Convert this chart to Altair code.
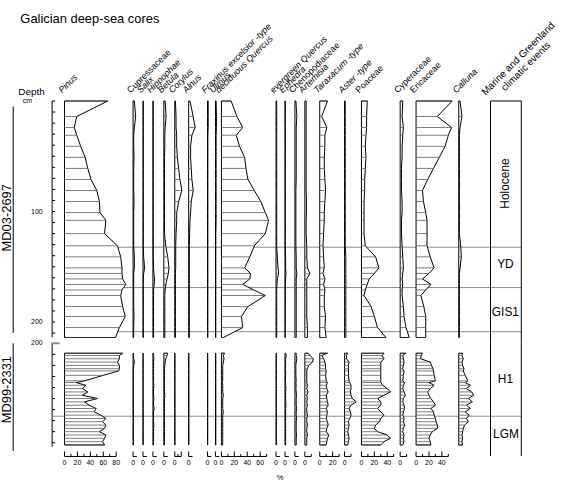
import altair as alt
import pandas as pd

# ------------------------------------------------------------------ data
md03_depth = [0, 14, 24, 31, 41, 51, 61, 71, 81, 91, 101, 108, 120, 131, 141,
              151, 156, 161, 166, 171, 176, 186, 195, 205, 214]
md99_depth = [209, 211, 214, 217, 220, 223, 225, 229, 234, 235.5, 238, 241, 244,
              247, 250, 253, 256, 259, 262, 265, 268, 271, 274, 277, 280, 283,
              286, 289, 292]

pinus_md03 = [67, 19, 15, 19, 25, 32, 36, 41, 50, 54, 55, 64, 62, 82, 87, 89, 89, 90, 95, 89, 87, 90, 94, 85, 79]
cupress_md03 = [2, 4, 2, 1, 1, 1.5, 1, 1, 1, 1.5, 1, 1, 1, 1, 2, 2, 1, 1, 1, 1, 1, 1, 1.5, 1, 1]
salix_md03 = [0.5, 0.5, 0.5, 0.5, 0.5, 0.5, 0.5, 0.5, 0.5, 0.5, 0.5, 0.5, 0.5, 0.5, 1, 2.5, 1, 0.5, 0.5, 0.5, 0.5, 0.5, 0.5, 0.5, 0.5]
hippo_md03 = [0.5, 0.5, 0.5, 0.5, 0.5, 0.5, 0.5, 0.5, 0.5, 0.5, 0.5, 0.5, 0.5, 0.5, 0.5, 1, 1.5, 2.5, 2, 1, 1, 1, 1, 1, 1]
betula_md03 = [2, 3.5, 2, 1.5, 1.5, 1, 1, 1, 1, 1, 1, 1, 1, 3, 6, 8, 7, 5, 3, 2, 1.5, 1.5, 1.5, 1.5, 1.5]
corylus_md03 = [1, 2, 2, 3, 3, 4, 6, 8, 11, 6, 3, 3, 2, 1.5, 1.5, 1.5, 1, 1, 1, 1, 1, 1, 1, 1, 1]
alnus_md03 = [2, 7, 10, 5, 3, 3, 4, 5, 7, 4, 3, 2, 1.5, 1, 1, 1, 1, 1, 1, 1, 1, 1, 1, 1, 1]
fraxinus_md03 = [1, 1, 1, 0.5, 0.5, 0.5, 0.5, 0.5, 0.5, 0.5, 0.5, 0.5, 0.5, 0.5, 0.5, 0.5, 0.5, 0.5, 0.5, 0.5, 0.5, 0.5, 0.5, 0.5, 0.5]
ulmus_md03 = [1, 1.5, 1.5, 1, 1, 1, 1, 1, 1, 1, 1, 1, 0.5, 0.5, 0.5, 0.5, 0.5, 0.5, 0.5, 0.5, 0.5, 0.5, 0.5, 0.5, 0.5]
dquercus_md03 = [15, 24, 33, 23, 28, 36, 38, 41, 51, 61, 68, 73, 68, 51, 44, 36, 45, 44, 33, 50, 68, 41, 31, 33, 3]
equercus_md03 = [1, 1, 1, 1, 1, 1, 1, 1, 1, 1, 1, 1, 1, 1, 2, 3, 4, 2, 1.5, 1, 1, 1, 1, 1, 1]
ephedra_md03 = [0.5, 0.5, 0.5, 0.5, 0.5, 0.5, 0.5, 0.5, 0.5, 0.5, 0.5, 0.5, 0.5, 0.5, 1, 1, 1.5, 1, 0.5, 0.5, 0.5, 0.5, 0.5, 0.5, 0.5]
cheno_md03 = [1.5, 3, 2, 2, 2, 2, 2, 2, 1.5, 1.5, 1.5, 1.5, 1.5, 1.5, 2, 2, 3, 2, 2, 2, 2, 2, 2, 2, 2]
artemisia_md03 = [2, 2, 2, 2, 2, 2, 2, 2, 2, 2.5, 2.5, 2, 2, 3, 3, 4, 8, 3, 3, 3, 3, 3, 3, 4, 4]
taraxacum_md03 = [12, 3, 11, 8, 8, 7, 7, 8, 9, 8, 7, 7, 6, 5, 6, 7, 5, 8, 6, 8, 7, 7, 9, 8, 10]
aster_md03 = [1, 1, 1, 1, 1, 1, 1, 1, 1, 1, 1, 1, 1, 1, 2, 2, 2, 2, 2, 2, 2, 2, 2, 2, 2]
poaceae_md03 = [9, 8, 8, 7, 6, 7, 6, 5, 5, 4, 4, 4, 4, 6, 22, 27, 20, 12, 9, 6, 4, 15, 20, 25, 38]
cyper_md03 = [4, 3, 5, 4, 3, 3, 2, 2, 2, 3, 3, 2, 2, 3, 4, 5, 4, 3, 4, 3, 3, 5, 6, 9, 14]
ericaceae_md03 = [56, 33, 55, 50, 45, 36, 27, 18, 10, 11.5, 15, 17, 17, 17, 22, 28, 20, 10, 23, 15, 7.5, 12, 15, 15, 15]
calluna_md03 = [2, 5, 2, 1, 1, 1, 1, 1, 1, 1, 1, 1, 1, 3, 4, 2, 1, 1, 1, 1, 1, 1, 1, 1, 1]

pinus_md99 = [90, 85, 85, 82, 85, 85, 84, 60, 31, 18, 33, 28, 36, 28, 51, 31, 38, 49, 46, 56, 64, 59, 64, 62, 54, 64, 62, 59, 62]
cupress_md99 = [0.5, 0.5, 1, 2, 1, 0.5, 0.5, 0.5, 0.5, 0.5, 0.5, 0.5, 0.5, 0.5, 0.5, 0.5, 0.5, 0.5, 0.5, 0.5, 0.5, 0.5, 0.5, 0.5, 0.5, 0.5, 0.5, 0.5, 0.5]
salix_md99 = [0.3, 0.3, 0.3, 0.3, 0.3, 0.3, 0.3, 0.3, 0.3, 0.3, 0.3, 0.3, 0.3, 0.3, 0.3, 0.3, 0.3, 0.3, 0.3, 0.3, 0.3, 0.3, 0.3, 0.3, 0.3, 0.3, 0.3, 0.3, 0.3]
hippo_md99 = [1, 1, 1.5, 1, 1, 1, 1, 1, 1, 1, 1.5, 1, 1, 1, 1.5, 1, 1, 2, 1, 1, 1, 1, 1.5, 1, 1, 1, 1, 1, 1]
betula_md99 = [6, 5, 3, 2, 1.5, 1, 1, 1, 1, 1, 1, 1, 1, 1.5, 1, 1, 1, 1, 1, 1, 1, 1, 1, 1, 1, 1, 1, 1, 1]
corylus_md99 = [0.3, 0.3, 0.3, 0.3, 0.3, 0.3, 0.3, 0.3, 0.3, 0.3, 0.3, 0.3, 0.3, 0.3, 0.3, 0.3, 0.3, 0.3, 0.3, 0.3, 0.3, 0.3, 0.3, 0.3, 0.3, 0.3, 0.3, 0.3, 0.3]
alnus_md99 = [0.3, 0.3, 0.3, 0.3, 0.3, 0.3, 0.3, 0.3, 0.3, 0.3, 0.3, 0.3, 0.3, 0.3, 0.3, 0.3, 0.3, 0.3, 0.3, 0.3, 0.3, 0.3, 0.3, 0.3, 0.3, 0.3, 0.3, 0.3, 0.3]
fraxinus_md99 = [0.3, 0.3, 0.3, 0.3, 0.3, 0.3, 0.3, 0.3, 0.3, 0.3, 0.3, 0.3, 0.3, 0.3, 0.3, 0.3, 0.3, 0.3, 0.3, 0.3, 0.3, 0.3, 0.3, 0.3, 0.3, 0.3, 0.3, 0.3, 0.3]
ulmus_md99 = [0.5, 0.5, 0.5, 0.5, 0.5, 0.5, 0.5, 0.5, 0.5, 0.5, 0.5, 0.5, 0.5, 0.5, 0.5, 0.5, 0.5, 0.5, 0.5, 0.5, 0.5, 0.5, 0.5, 0.5, 0.5, 0.5, 0.5, 0.5, 0.5]
dquercus_md99 = [5, 3, 4, 3, 2, 2, 2, 2, 2, 1.5, 2, 2, 2, 3, 2, 2, 2, 2, 3, 2, 2, 2, 2, 2, 2, 2, 2, 2, 2]
equercus_md99 = [0.5, 0.5, 0.5, 0.5, 0.5, 0.5, 0.5, 0.5, 0.5, 0.5, 0.5, 0.5, 0.5, 0.5, 0.5, 0.5, 0.5, 0.5, 0.5, 0.5, 0.5, 0.5, 0.5, 0.5, 0.5, 0.5, 0.5, 0.5, 0.5]
ephedra_md99 = [1, 2, 1, 1, 1, 0.5, 1, 1, 0.5, 1, 1, 1.5, 1, 1, 1, 1, 1.5, 1, 1, 1, 1, 1, 1, 1, 1, 1, 1, 1, 1]
cheno_md99 = [2, 2, 3, 2, 1.5, 1.5, 1.5, 1.5, 2, 1.5, 2, 1.5, 2, 2.5, 2, 2, 2, 2.5, 2, 2, 2.5, 2, 2, 2, 2, 2.5, 2, 2, 2]
artemisia_md99 = [5, 8, 13, 12, 6, 4, 3, 3, 3, 3, 4, 3, 5, 3, 4, 3, 4, 3, 3, 4, 3, 3, 4, 3, 3, 4, 3, 3, 3]
taraxacum_md99 = [12, 3, 6, 8, 9, 9, 10, 9, 10, 12, 10, 11, 13, 10, 11, 12, 13, 10, 12, 11, 10, 12, 13, 11, 10, 14, 12, 11, 10]
aster_md99 = [5, 3, 3, 7, 6, 6, 6, 6, 7, 8, 10, 10, 9, 10, 12, 18, 10, 7, 9, 10, 8, 6, 7, 6, 5, 6, 7, 6, 5]
poaceae_md99 = [35, 32, 35, 30, 30, 30, 30, 30, 30, 30, 33, 40, 45, 35, 25, 30, 30, 25, 30, 35, 30, 28, 22, 20, 25, 40, 45, 35, 30]
cyper_md99 = [9, 4, 5, 6, 5, 4, 6, 5, 4, 7, 5, 4, 6, 8, 5, 4, 6, 7, 5, 4, 6, 5, 7, 5, 4, 6, 5, 6, 4]
ericaceae_md99 = [10, 8, 7, 22, 24, 26, 27, 28, 30, 20, 28, 22, 18, 20, 23, 27, 30, 23, 27, 28, 30, 31, 33, 33, 25, 22, 20, 22, 23]
calluna_md99 = [6, 5, 7, 5, 6, 8, 7, 10, 14, 10, 18, 12, 20, 23, 15, 21, 12, 18, 10, 16, 12, 15, 9, 7, 6, 5, 6, 5, 6]

taxa_names = ["Pinus", "Cupressaceae", "Salix", "Hippophae", "Betula", "Corylus",
              "Alnus", "Fraxinus excelsior -type", "Ulmus", "deciduous Quercus",
              "evergreen Quercus", "Ephedra", "Chenopodiaceae", "Artemisia",
              "Taraxacum -type", "Aster -type", "Poaceae", "Cyperaceae",
              "Ericaceae", "Calluna"]
taxa_italic = [True, False, True, True, True, True, True, True, True, True,
               True, True, False, True, True, True, False, False, False, True]

md03_values = [pinus_md03, cupress_md03, salix_md03, hippo_md03, betula_md03,
               corylus_md03, alnus_md03, fraxinus_md03, ulmus_md03, dquercus_md03,
               equercus_md03, ephedra_md03, cheno_md03, artemisia_md03,
               taraxacum_md03, aster_md03, poaceae_md03, cyper_md03,
               ericaceae_md03, calluna_md03]
md99_values = [pinus_md99, cupress_md99, salix_md99, hippo_md99, betula_md99,
               corylus_md99, alnus_md99, fraxinus_md99, ulmus_md99, dquercus_md99,
               equercus_md99, ephedra_md99, cheno_md99, artemisia_md99,
               taraxacum_md99, aster_md99, poaceae_md99, cyper_md99,
               ericaceae_md99, calluna_md99]

# % scale bars: (axis end, major ticks, minor ticks, labelled ticks)
short_axis = (6, [0], [], [0])
taxa_axes = [
    (80, [0, 20, 40, 60, 80], [10, 30, 50, 70], [0, 20, 40, 60, 80]),
    short_axis, short_axis, short_axis, short_axis,
    (10, [0, 10], [5], [0]),
    short_axis, short_axis, short_axis,
    (70, [0, 20, 40, 60], [10, 30, 50, 70], [0, 20, 40, 60]),
    short_axis, short_axis, short_axis,
    (10, [0], [10], [0]),
    (30, [0, 20], [10, 30], [0, 20]),
    (10, [0], [10], [0]),
    (50, [0, 20, 40], [10, 30, 50], [0, 20, 40]),
    (10, [0], [10], [0]),
    (50, [0, 20, 40], [10, 30, 50], [0, 20, 40]),
    None,
]

md03_events = [132.3, 168.8, 208.7]
md99_events = [266]
md03_event_names = ["Holocene", "YD", "GIS1"]
md99_event_names = ["H1", "LGM"]
md03_depth_ticks = [0, 10, 20, 30, 40, 50, 60, 70, 80, 90, 100, 110, 120, 130,
                    140, 150, 160, 170, 180, 190, 200, 210]
md03_depth_labels = [100, 200]
md99_depth_ticks = [210, 220, 230, 240, 250, 260, 270, 280, 290]
md99_depth_labels = [200]

# ------------------------------------------------------------------ layout
FONT = "Liberation Sans"
GRAY = "#8a8a8a"
K = 0.65          # px per percent
PXCM = 1.113      # px per cm depth
GAP = 6
DEPTH_W = 65
EVENT_W = 31
panel_w = [69, 10, 10, 11, 11, 14, 19, 8, 6, 55, 9, 10, 10, 15, 25, 17, 39, 16, 43, 32]

ROWS = [
    dict(top=0, h=238, depth=md03_depth, events=md03_events),
    dict(top=200, h=104, depth=md99_depth, events=md99_events),
]
for r in ROWS:
    r["dom"] = [r["top"], r["top"] + r["h"] / PXCM]

ONE = pd.DataFrame({"a": [0]})


def yenc(r):
    return alt.Y("d:Q", axis=None,
                 scale=alt.Scale(domain=r["dom"], reverse=True, nice=False, zero=False))


def event_rules(r, x0, x1):
    return alt.Chart(pd.DataFrame({"d": r["events"]})).mark_rule(
        color=GRAY, strokeWidth=1).encode(y=yenc(r), x=alt.value(x0), x2=alt.value(x1))


def taxon_panel(ri, ti):
    r = ROWS[ri]
    h = r["h"]
    w = panel_w[ti]
    vals = md03_values[ti] if ri == 0 else md99_values[ti]
    df = pd.DataFrame({"d": r["depth"], "v": vals, "z": [0] * len(vals)})
    xs = alt.Scale(domain=[0, w / K], nice=False, zero=False)
    X = alt.X("v:Q", scale=xs, axis=None, stack=None)
    Y = yenc(r)
    layers = [
        event_rules(r, 0, w),
        alt.Chart(df).mark_area(orient="horizontal", fill="white", stroke="black",
                                strokeWidth=1, strokeJoin="miter").encode(x=X, y=Y),
        alt.Chart(df).mark_rule(color="#444", strokeWidth=0.7).encode(
            x=X, x2="z:Q", y=Y),
    ]
    if ri == 0:
        layers.append(alt.Chart(ONE).mark_text(
            angle=315, align="left", baseline="alphabetic", fontSize=9, font=FONT,
            fontStyle="italic" if taxa_italic[ti] else "normal").encode(
            text=alt.value(taxa_names[ti]), x=alt.value(-2.5), y=alt.value(-7.5)))
    else:
        ax = taxa_axes[ti]
        if ax is not None:
            mx, majors, minors, labels = ax
            layers.append(alt.Chart(pd.DataFrame({"v": [0], "z": [mx]})).mark_rule(
                color="black", strokeWidth=1).encode(x=X, x2="z:Q", y=alt.value(h + 10)))
            layers.append(alt.Chart(pd.DataFrame({"v": majors})).mark_rule(
                color="black", strokeWidth=1).encode(
                x=X, y=alt.value(h + 5), y2=alt.value(h + 10)))
            if minors:
                layers.append(alt.Chart(pd.DataFrame({"v": minors})).mark_rule(
                    color="black", strokeWidth=1).encode(
                    x=X, y=alt.value(h + 7.5), y2=alt.value(h + 10)))
            layers.append(alt.Chart(pd.DataFrame({"v": labels,
                                                  "lab": [str(v) for v in labels]}))
                          .mark_text(fontSize=7, font=FONT, baseline="middle",
                                     align="center")
                          .encode(x=X, y=alt.value(h + 17), text="lab:N"))
        if taxa_names[ti] == "evergreen Quercus":
            layers.append(alt.Chart(ONE).mark_text(
                fontSize=8, font=FONT, baseline="middle", align="center").encode(
                text=alt.value("%"), x=alt.value(4), y=alt.value(h + 31.5)))
    return alt.layer(*layers).properties(width=w, height=h)


def depth_panel(ri):
    r = ROWS[ri]
    h = r["h"]
    Y = yenc(r)
    ticks = md03_depth_ticks if ri == 0 else md99_depth_ticks
    labs = md03_depth_labels if ri == 0 else md99_depth_labels
    layers = [
        alt.Chart(pd.DataFrame({"d": [r["dom"][0]], "d2": [r["dom"][1]]})).mark_rule(
            color="black", strokeWidth=1).encode(x=alt.value(52.5), y=Y, y2="d2:Q"),
        alt.Chart(pd.DataFrame({"d": ticks})).mark_rule(
            color="black", strokeWidth=1).encode(x=alt.value(52.5), x2=alt.value(55.5), y=Y),
        alt.Chart(pd.DataFrame({"d": labs, "lab": [str(v) for v in labs]})).mark_text(
            fontSize=7, font=FONT, align="right", baseline="middle").encode(
            x=alt.value(43), y=Y, text="lab:N"),
    ]
    if ri == 0:
        layers += [
            alt.Chart(ONE).mark_rule(opacity=0).encode(
                x=alt.value(0), x2=alt.value(0.5), y=alt.value(-99.4)),
            alt.Chart(ONE).mark_text(fontSize=13, font=FONT, align="left",
                                     baseline="alphabetic").encode(
                text=alt.value("Galician deep-sea cores"), x=alt.value(20.5),
                y=alt.value(21 - 99.4)),
            alt.Chart(ONE).mark_text(fontSize=10, font=FONT, align="left",
                                     baseline="alphabetic").encode(
                text=alt.value("Depth"), x=alt.value(18.5), y=alt.value(93 - 99.4)),
            alt.Chart(ONE).mark_text(fontSize=7, font=FONT, align="center",
                                     baseline="alphabetic").encode(
                text=alt.value("cm"), x=alt.value(27.5), y=alt.value(101.5 - 99.4)),
            alt.Chart(ONE).mark_text(fontSize=13, font=FONT, angle=270, align="center",
                                     baseline="middle").encode(
                text=alt.value("MD03-2697"), x=alt.value(7), y=alt.value(217 - 99.4)),
            alt.Chart(ONE).mark_rule(color="black", strokeWidth=1).encode(
                x=alt.value(13.3), y=alt.value(5.6), y2=alt.value(233.6)),
        ]
    else:
        layers += [
            alt.Chart(pd.DataFrame({"d": [200]})).mark_rule(
                color=GRAY, strokeWidth=2).encode(x=alt.value(51.7), x2=alt.value(60), y=Y),
            event_rules(r, 52.5, DEPTH_W),
            alt.Chart(ONE).mark_text(fontSize=13, font=FONT, angle=270, align="center",
                                     baseline="middle").encode(
                text=alt.value("MD99-2331"), x=alt.value(7), y=alt.value(390 - 343.3)),
            alt.Chart(ONE).mark_rule(color="black", strokeWidth=1).encode(
                x=alt.value(13.3), y=alt.value(0), y2=alt.value(108.4)),
        ]
    return alt.layer(*layers).properties(width=DEPTH_W, height=h)


def event_panel(ri):
    r = ROWS[ri]
    h = r["h"]
    ext = GAP if ri == 0 else 9.5
    layers = [
        event_rules(r, 0, EVENT_W),
        alt.Chart(ONE).mark_rule(color="black", strokeWidth=1).encode(
            x=alt.value(0), y=alt.value(0), y2=alt.value(h + ext)),
        alt.Chart(ONE).mark_rule(color="black", strokeWidth=1).encode(
            x=alt.value(EVENT_W), y=alt.value(0), y2=alt.value(h + ext)),
    ]
    if ri == 0:
        layers += [
            alt.Chart(ONE).mark_rule(color="black", strokeWidth=1).encode(
                x=alt.value(0), x2=alt.value(EVENT_W), y=alt.value(0)),
            alt.Chart(ONE).mark_text(fontSize=12, font=FONT, angle=270, align="center",
                                     baseline="middle").encode(
                text=alt.value(md03_event_names[0]), x=alt.value(15), y=alt.value(83.1)),
            alt.Chart(ONE).mark_text(fontSize=12, font=FONT, align="center",
                                     baseline="middle").encode(
                text=alt.value(md03_event_names[1]), x=alt.value(15), y=alt.value(164.6)),
            alt.Chart(ONE).mark_text(fontSize=12, font=FONT, align="center",
                                     baseline="middle").encode(
                text=alt.value(md03_event_names[2]), x=alt.value(15), y=alt.value(212.3)),
            alt.Chart(ONE).mark_text(fontSize=10, font=FONT, angle=315, align="center",
                                     baseline="alphabetic", lineHeight=11).encode(
                text=alt.value(["Marine and Greenland", "climatic events"]),
                x=alt.value(30), y=alt.value(59 - 99.4)),
        ]
    else:
        layers += [
            alt.Chart(ONE).mark_text(fontSize=12, font=FONT, align="center",
                                     baseline="middle").encode(
                text=alt.value(md99_event_names[0]), x=alt.value(15), y=alt.value(35.7)),
            alt.Chart(ONE).mark_text(fontSize=12, font=FONT, align="center",
                                     baseline="middle").encode(
                text=alt.value(md99_event_names[1]), x=alt.value(15.5), y=alt.value(91.7)),
        ]
    return alt.layer(*layers).properties(width=EVENT_W, height=h)


cells = []
for ri in range(2):
    cells += [depth_panel(ri)] + [taxon_panel(ri, ti) for ti in range(len(taxa_names))] \
        + [event_panel(ri)]
NCOL = len(taxa_names) + 2

chart = alt.concat(*cells, columns=NCOL, spacing={"row": GAP, "column": 0},
                   bounds="flush", align="each").properties(
    padding={"left": 0, "top": 0, "right": 0, "bottom": 0}
).configure_view(stroke=None)

chart.save("out.html", embed_options={"renderer": "svg", "actions": False})
